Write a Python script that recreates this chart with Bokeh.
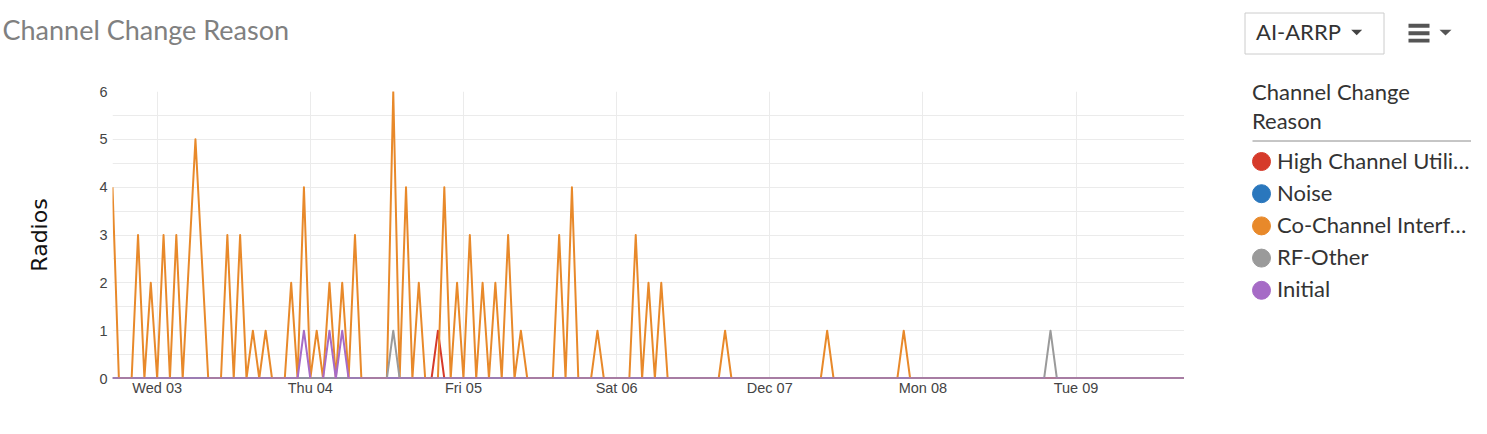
import numpy as np
import pandas as pd
from bokeh.plotting import figure
from bokeh.layouts import row, column
from bokeh.models import Range1d, FixedTicker, ColumnDataSource, Title
from bokeh.core.properties import value
from bokeh.embed import file_html
from bokeh.resources import INLINE

# ---------------- data ----------------
chart_title = "Channel Change Reason"
legend_title_lines = ["Channel Change", "Reason"]
selector_text = "AI-ARRP"

start_time = "2025-12-02 17:00"
span_hours = 168

tick_dates = ["2025-12-03", "2025-12-04", "2025-12-05", "2025-12-06",
              "2025-12-07", "2025-12-08", "2025-12-09"]
tick_labels = ["Wed 03", "Thu 04", "Fri 05", "Sat 06", "Dec 07", "Mon 08", "Tue 09"]
y_ticks = [0, 1, 2, 3, 4, 5, 6]

series_names = ["High Channel Utili\u2026", "Noise", "Co-Channel Interf\u2026",
                "RF-Other", "Initial"]
series_colors = ["#d63a2a", "#2a77bd", "#e8892a", "#9a9a9a", "#a66bc6"]

# hours after start_time
high_util_hours = [0, 50, 51, 52, 168]
high_util_values = [0, 0, 1, 0, 0]

noise_hours = [0, 168]
noise_values = [0, 0]

cci_hours = [0, 1, 3, 4, 5, 6, 7, 8, 9, 10, 11, 13, 15, 17, 18, 19, 20, 21, 22, 23,
             24, 25, 27, 28, 29, 30, 31, 32, 33, 34, 35, 36, 37, 38, 39, 43, 44, 45,
             46, 47, 48, 49, 51, 52, 53, 54, 55, 56, 57, 58, 59, 60, 61, 62, 63, 64,
             65, 69, 70, 71, 72, 73, 75, 76, 77, 81, 82, 83, 84, 85, 86, 87, 95, 96,
             97, 111, 112, 113, 123, 124, 125, 168]
cci_values = [4, 0, 0, 3, 0, 2, 0, 3, 0, 3, 0, 5, 0, 0, 3, 0, 3, 0, 1, 0,
              1, 0, 0, 2, 0, 4, 0, 1, 0, 2, 0, 2, 0, 3, 0, 0, 6, 0,
              4, 0, 2, 0, 0, 4, 0, 2, 0, 3, 0, 2, 0, 2, 0, 3, 0, 1,
              0, 0, 3, 0, 4, 0, 0, 1, 0, 0, 3, 0, 2, 0, 2, 0, 0, 1,
              0, 0, 1, 0, 0, 1, 0, 0]

rf_other_hours = [0, 43, 44, 45, 146, 147, 148, 168]
rf_other_values = [0, 0, 1, 0, 0, 1, 0, 0]

initial_hours = [0, 29, 30, 31, 32, 33, 34, 35, 36, 37, 168]
initial_values = [0, 0, 1, 0, np.nan, 0, 1, 0, 1, 0, 0]

series_hours = [high_util_hours, noise_hours, cci_hours, rf_other_hours, initial_hours]
series_values = [high_util_values, noise_values, cci_values, rf_other_values, initial_values]

# ---------------- layout sizes (px) ----------------
TOTAL_W, TOTAL_H = 1471, 418
MAIN_W = 1184
SIDE_W = TOTAL_W - MAIN_W
TEXT = "#333333"
SHIFT22 = 9.5   # baseline correction for 22px text glyphs

# ---------------- main chart ----------------
t0 = pd.Timestamp(start_time)
t1 = t0 + pd.Timedelta(hours=span_hours)
tick_ms = [int(pd.Timestamp(d).value // 10**6) for d in tick_dates]

p = figure(width=MAIN_W, height=TOTAL_H, x_axis_type="datetime",
           x_range=Range1d(t0.to_pydatetime(), t1.to_pydatetime()),
           y_range=Range1d(0, 6),
           output_backend="svg", toolbar_location=None,
           min_border_left=112, min_border_right=0,
           min_border_top=91, min_border_bottom=40)
p.outline_line_color = None
p.background_fill_color = "white"
p.border_fill_color = "white"

# spacer between the frame and the chart title
p.add_layout(Title(text=" ", text_font_size="1px", standoff=43), "above")

p.title.text = chart_title
p.title.align = "left"
p.title.offset = -110
p.title.standoff = 0
p.title.text_font = "Lato"
p.title.text_font_size = "27px"
p.title.text_font_style = "normal"
p.title.text_color = "#808080"

grid_color = "#ebebeb"
p.xgrid.ticker = FixedTicker(ticks=tick_ms)
p.xgrid.grid_line_color = grid_color
p.ygrid.ticker = FixedTicker(ticks=y_ticks, minor_ticks=[v + 0.5 for v in y_ticks[:-1]])
p.ygrid.grid_line_color = grid_color
p.ygrid.minor_grid_line_color = grid_color

xa = p.xaxis[0]
xa.ticker = FixedTicker(ticks=tick_ms)
xa.major_label_overrides = dict(zip(tick_ms, tick_labels))
xa.axis_line_color = None
xa.major_tick_line_color = None
xa.minor_tick_line_color = None
xa.major_tick_out = 0
xa.major_tick_in = 0
xa.minor_tick_out = 0
xa.major_label_standoff = 1
xa.major_label_text_font = "Liberation Sans"
xa.major_label_text_font_size = "14.5px"
xa.major_label_text_color = "#444444"

ya = p.yaxis[0]
ya.ticker = FixedTicker(ticks=y_ticks)
ya.axis_line_color = None
ya.major_tick_line_color = None
ya.minor_tick_line_color = None
ya.major_tick_out = 0
ya.major_tick_in = 0
ya.minor_tick_out = 0
ya.major_label_standoff = 5
ya.major_label_text_font = "Liberation Sans"
ya.major_label_text_font_size = "14.5px"
ya.major_label_text_color = "#444444"
ya.axis_label = "Radios"
ya.axis_label_text_font = "DejaVu Sans"
ya.axis_label_text_font_size = "22px"
ya.axis_label_text_font_style = "normal"
ya.axis_label_text_color = "#111111"
ya.axis_label_standoff = 44

for hours, values, color in zip(series_hours, series_values, series_colors):
    src = ColumnDataSource(dict(
        x=(t0 + pd.to_timedelta(hours, unit="h")).values,
        y=np.array(values, dtype=float)))
    p.line("x", "y", source=src, line_color=color, line_width=2, line_join="round")

# ---------------- side panel: selector, menu, legend ----------------
side = figure(width=SIDE_W, height=TOTAL_H, x_range=Range1d(0, SIDE_W),
              y_range=Range1d(TOTAL_H, 0), x_axis_location=None, y_axis_location=None,
              output_backend="svg", toolbar_location=None,
              min_border=0, min_border_left=0, min_border_right=0,
              min_border_top=0, min_border_bottom=0)
side.grid.visible = False
side.outline_line_color = None
side.background_fill_color = "white"
side.border_fill_color = "white"
ox = MAIN_W  # picture x of side panel's left edge

# selector box
side.quad(left=[1244.5 - ox], right=[1383.5 - ox], top=[12.5], bottom=[53.5],
          fill_color=None, line_color="#cccccc", line_width=1)
side.text(x=[1255.5 - ox], y=[40.7 - SHIFT22], text=[selector_text], text_font=value("Lato"),
          text_font_size="22px", text_color=TEXT, text_baseline="alphabetic")
# carets
side.patches(xs=[[1350.7 - ox, 1361.7 - ox, 1356.2 - ox], [1439 - ox, 1451 - ox, 1445 - ox]],
             ys=[[29.3, 29.3, 34.8], [29.3, 29.3, 35.0]],
             fill_color=["#444444", "#555555"], line_color=None)
# hamburger
side.quad(left=[1408 - ox] * 3, right=[1429 - ox] * 3,
          top=[23.3, 30.7, 38.3], bottom=[27.3, 34.7, 42.0],
          fill_color="#555555", line_color=None)

# legend title + separator
for i, line_text in enumerate(legend_title_lines):
    side.text(x=[1251.5 - ox], y=[100.7 + 28.3 * i - SHIFT22], text=[line_text],
              text_font=value("Lato"), text_font_size="22px", text_color=TEXT,
              text_baseline="alphabetic")
side.segment(x0=[1252 - ox], y0=[140.5], x1=[1477 - ox], y1=[140.5],
             line_color="#8c8c8c", line_width=1)

# legend items
n = len(series_names)
item_y = [161 + 32.2 * i for i in range(n)]
side.scatter(x=[1261 - ox] * n, y=item_y, size=18, fill_color=series_colors,
             line_color=series_colors)
side.text(x=[1276.5 - ox] * n, y=[yy + 8 - SHIFT22 for yy in item_y], text=series_names,
          text_font=value("Lato"), text_font_size="22px", text_color=TEXT,
          text_baseline="alphabetic")

layout = row(column(p), side)
open("out.html", "w").write(file_html(layout, INLINE))
